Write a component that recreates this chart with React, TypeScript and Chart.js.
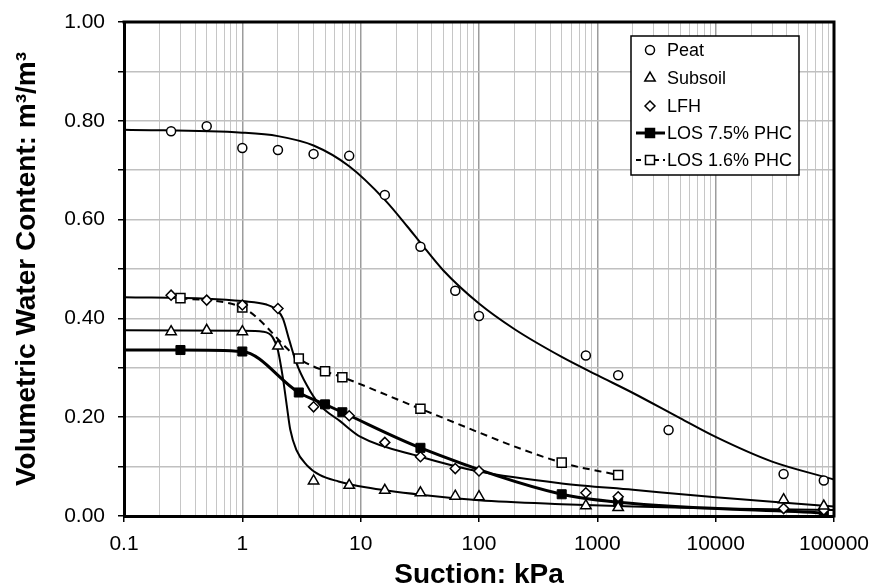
import React, { useEffect, useRef } from 'react';
import { Chart, registerables } from 'chart.js';

Chart.register(...registerables);

// ---- measured points ----
const peatSuction = [0.25, 0.5, 1, 2, 4, 8, 16, 32, 63, 100, 800, 1500, 4000, 37500, 82000];
const peatTheta = [0.779, 0.789, 0.745, 0.741, 0.733, 0.729, 0.65, 0.545, 0.456, 0.405, 0.325, 0.285, 0.174, 0.085, 0.072];

const subsoilSuction = [0.25, 0.5, 1, 2, 4, 8, 16, 32, 63, 100, 800, 1500, 37500, 82000];
const subsoilTheta = [0.373, 0.376, 0.373, 0.344, 0.071, 0.062, 0.052, 0.047, 0.04, 0.039, 0.021, 0.017, 0.033, 0.02];

const lfhSuction = [0.25, 0.5, 1, 2, 4, 8, 16, 32, 63, 100, 800, 1500, 37500, 82000];
const lfhTheta = [0.447, 0.437, 0.427, 0.42, 0.221, 0.203, 0.149, 0.12, 0.096, 0.091, 0.047, 0.039, 0.015, 0.012];

const los75Suction = [0.1, 0.3, 1, 3, 5, 7, 32, 500, 1500, 82000];
const los75Theta = [0.336, 0.336, 0.333, 0.25, 0.226, 0.21, 0.138, 0.044, 0.028, 0.006];

const los16Suction = [0.3, 1, 3, 5, 7, 32, 500, 1500];
const los16Theta = [0.441, 0.422, 0.319, 0.293, 0.281, 0.217, 0.108, 0.083];

// ---- fitted curves ----
const peatFitSuction = [0.1, 1, 2, 4, 8, 16, 25, 32, 50, 100, 200, 500, 1000, 2000, 5000, 10000, 30000, 100000];
const peatFitTheta = [0.782, 0.776, 0.769, 0.75, 0.708, 0.64, 0.585, 0.553, 0.497, 0.43, 0.378, 0.322, 0.285, 0.249, 0.198, 0.16, 0.11, 0.074];

const subsoilFitSuction = [0.1, 1, 1.5, 1.8, 2, 2.2, 2.37, 2.54, 2.86, 3.5, 4.5, 6.5, 11, 32, 100, 500, 2000, 10000, 100000];
const subsoilFitTheta = [0.376, 0.375, 0.373, 0.362, 0.335, 0.28, 0.225, 0.175, 0.134, 0.103, 0.083, 0.07, 0.058, 0.043, 0.032, 0.024, 0.019, 0.015, 0.012];

const lfhFitSuction = [0.1, 0.5, 1, 1.6, 2, 2.2, 2.5, 2.86, 3.5, 4.5, 6.7, 10, 32, 100, 500, 2000, 10000, 100000];
const lfhFitTheta = [0.443, 0.44, 0.435, 0.428, 0.415, 0.4, 0.355, 0.31, 0.265, 0.225, 0.192, 0.16, 0.12, 0.09, 0.066, 0.053, 0.038, 0.019];

// ---- axis ----
const xDecades = [0.1, 1, 10, 100, 1000, 10000, 100000];
const yTickValues = [0, 0.1, 0.2, 0.3, 0.4, 0.5, 0.6, 0.7, 0.8, 0.9, 1.0];
const yLabelled = [0, 0.2, 0.4, 0.6, 0.8, 1.0];

const legendLabels = ['Peat', 'Subsoil', 'LFH', 'LOS 7.5% PHC', 'LOS 1.6% PHC'];

const FONT = '"Liberation Sans", Arial, sans-serif';

const xy = (xs: number[], ys: number[]) => xs.map((x, i) => ({ x, y: ys[i] }));

const isDecade = (v: number) => {
  if (v == null || !(v > 0)) return false;
  const l = Math.log10(v);
  return Math.abs(l - Math.round(l)) < 1e-9;
};

const xTickValues: number[] = (() => {
  const out: number[] = [];
  for (let e = -1; e < 5; e++) {
    for (let m = 1; m < 10; m++) out.push(Number((m * Math.pow(10, e)).toPrecision(12)));
  }
  out.push(100000);
  return out;
})();

function drawMarker(ctx: CanvasRenderingContext2D, style: string, x: number, y: number, filled: boolean) {
  ctx.save();
  ctx.lineWidth = 1.5;
  ctx.strokeStyle = '#000';
  ctx.fillStyle = filled ? '#000' : '#fff';
  ctx.beginPath();
  if (style === 'circle') {
    ctx.arc(x, y, 4.5, 0, Math.PI * 2);
  } else if (style === 'triangle') {
    const r = 6;
    ctx.moveTo(x, y - r);
    ctx.lineTo(x + r * Math.sin(Math.PI / 3), y + r / 2);
    ctx.lineTo(x - r * Math.sin(Math.PI / 3), y + r / 2);
    ctx.closePath();
  } else if (style === 'diamond') {
    const r = 5;
    ctx.moveTo(x, y - r);
    ctx.lineTo(x + r, y);
    ctx.lineTo(x, y + r);
    ctx.lineTo(x - r, y);
    ctx.closePath();
  } else {
    const s = 4.5;
    ctx.rect(x - s, y - s, 2 * s, 2 * s);
  }
  ctx.fill();
  ctx.stroke();
  ctx.restore();
}

const framePlugin = {
  id: 'frame',
  afterDatasetsDraw(chart: any) {
    const { ctx, chartArea: a } = chart;
    ctx.save();
    ctx.strokeStyle = '#000';
    ctx.lineWidth = 3;
    ctx.beginPath();
    ctx.moveTo(a.left - 1.5, a.top);
    ctx.lineTo(a.right, a.top);
    ctx.lineTo(a.right, a.bottom + 1.5);
    ctx.stroke();
    ctx.restore();
  },
};

const legendPlugin = {
  id: 'customLegend',
  afterDraw(chart: any) {
    const { ctx } = chart;
    const bx = 631, by = 36, bw = 168, bh = 139;
    ctx.save();
    ctx.fillStyle = '#fff';
    ctx.fillRect(bx, by, bw, bh);
    ctx.strokeStyle = '#000';
    ctx.lineWidth = 1.5;
    ctx.strokeRect(bx, by, bw, bh);
    const rows = [50, 78, 106, 133, 160];
    const styles = ['circle', 'triangle', 'diamond', 'square', 'square'];
    const filled = [false, false, false, true, false];
    ctx.font = `18px ${FONT}`;
    ctx.textBaseline = 'middle';
    ctx.textAlign = 'left';
    rows.forEach((ry, i) => {
      const mx = 650;
      if (i >= 3) {
        ctx.save();
        ctx.strokeStyle = '#000';
        ctx.lineWidth = i === 3 ? 3 : 2;
        ctx.setLineDash(i === 4 ? [5, 4] : []);
        ctx.beginPath();
        ctx.moveTo(636, ry);
        ctx.lineTo(665, ry);
        ctx.stroke();
        ctx.restore();
      }
      drawMarker(ctx, styles[i], mx, ry, filled[i]);
      ctx.fillStyle = '#000';
      ctx.fillText(legendLabels[i], 667, ry + 1);
    });
    ctx.restore();
  },
};

export default function App() {
  const ref = useRef<HTMLCanvasElement>(null);

  useEffect(() => {
    document.body.style.margin = '0';
    const canvas = ref.current!;
    const markerBase = {
      showLine: false,
      borderColor: '#000',
      pointBorderColor: '#000',
      pointBorderWidth: 1.5,
      pointBackgroundColor: '#fff',
    };
    const fitBase = {
      showLine: true,
      borderColor: '#000',
      borderWidth: 2,
      pointRadius: 0,
      pointHoverRadius: 0,
      cubicInterpolationMode: 'monotone' as const,
    };
    const chart = new Chart(canvas, {
      type: 'scatter',
      data: {
        datasets: [
          { ...markerBase, label: 'Peat', data: xy(peatSuction, peatTheta), pointStyle: 'circle', pointRadius: 4.5 },
          { ...markerBase, label: 'Subsoil', data: xy(subsoilSuction, subsoilTheta), pointStyle: 'triangle', pointRadius: 6 },
          { ...markerBase, label: 'LFH', data: xy(lfhSuction, lfhTheta), pointStyle: 'rectRot', pointRadius: 5 },
          {
            label: 'LOS 7.5% PHC',
            data: xy(los75Suction, los75Theta),
            showLine: true,
            borderColor: '#000',
            borderWidth: 3,
            cubicInterpolationMode: 'monotone',
            pointStyle: 'rect',
            pointRadius: (c: any) => (c.dataIndex === 0 ? 0 : 6.4),
            pointBackgroundColor: '#000',
            pointBorderColor: '#000',
            pointBorderWidth: 1,
          },
          {
            label: 'LOS 1.6% PHC',
            data: xy(los16Suction, los16Theta),
            showLine: true,
            borderColor: '#000',
            borderWidth: 2,
            borderDash: [7, 5],
            cubicInterpolationMode: 'monotone',
            pointStyle: 'rect',
            pointRadius: 6.4,
            pointBackgroundColor: '#fff',
            pointBorderColor: '#000',
            pointBorderWidth: 1.5,
          },
          { ...fitBase, label: 'Peat fit', data: xy(peatFitSuction, peatFitTheta) },
          { ...fitBase, label: 'Subsoil fit', data: xy(subsoilFitSuction, subsoilFitTheta) },
          { ...fitBase, label: 'LFH fit', data: xy(lfhFitSuction, lfhFitTheta) },
        ],
      },
      options: {
        responsive: false,
        maintainAspectRatio: false,
        animation: false,
        devicePixelRatio: 1,
        events: [],
        layout: { padding: { left: 0, right: 41, top: 22, bottom: 0 } },
        plugins: {
          legend: { display: false },
          tooltip: { enabled: false },
          title: { display: false },
        },
        font: { family: FONT },
        scales: {
          x: {
            type: 'logarithmic',
            min: 0.1,
            max: 100000,
            afterBuildTicks: (s: any) => {
              s.ticks = xTickValues.map((v) => ({ value: v, major: isDecade(v) }));
            },
            afterFit: (s: any) => {
              s.height = 71;
              s.paddingLeft = 0;
              s.paddingRight = 0;
            },
            ticks: {
              autoSkip: false,
              maxRotation: 0,
              minRotation: 0,
              padding: 10,
              color: '#000',
              font: { size: 21, family: FONT },
              callback: (v: any) => (isDecade(Number(v)) ? (xDecades.find((d) => Math.abs(d - Number(v)) < 1e-9) ?? v).toString() : ''),
            },
            grid: {
              color: (c: any) => (isDecade(c.tick?.value) ? '#9c9c9c' : '#c6c6c6'),
              lineWidth: (c: any) => (isDecade(c.tick?.value) ? 1.5 : 1),
              tickLength: 6,
              tickColor: (c: any) => (isDecade(c.tick?.value) ? '#000' : 'rgba(0,0,0,0)'),
            },
            border: { color: '#000', width: 3 },
            title: {
              display: true,
              text: 'Suction: kPa',
              color: '#000',
              font: { size: 28, weight: 'bold', family: FONT, lineHeight: 1 },
              padding: { top: 0, bottom: -2 },
            },
          },
          y: {
            type: 'linear',
            min: 0,
            max: 1,
            afterBuildTicks: (s: any) => {
              s.ticks = yTickValues.map((v) => ({ value: v }));
            },
            afterFit: (s: any) => {
              s.width = 124;
              s.paddingTop = 0;
              s.paddingBottom = 0;
            },
            ticks: {
              autoSkip: false,
              padding: 13,
              color: '#000',
              font: { size: 21, family: FONT },
              callback: (v: any) => (yLabelled.some((l) => Math.abs(l - Number(v)) < 1e-9) ? Number(v).toFixed(2) : ''),
            },
            grid: {
              color: '#c0c0c0',
              lineWidth: 1.5,
              tickLength: 6,
              tickColor: '#000',
            },
            border: { color: '#000', width: 3 },
            title: {
              display: true,
              text: 'Volumetric Water Content: m³/m³',
              color: '#000',
              font: { size: 28, weight: 'bold', family: FONT },
              padding: { top: 10, bottom: 0 },
            },
          },
        },
      } as any,
      plugins: [framePlugin, legendPlugin],
    });
    return () => chart.destroy();
  }, []);

  return <canvas ref={ref} width={875} height={587} style={{ display: 'block' }} />;
}
